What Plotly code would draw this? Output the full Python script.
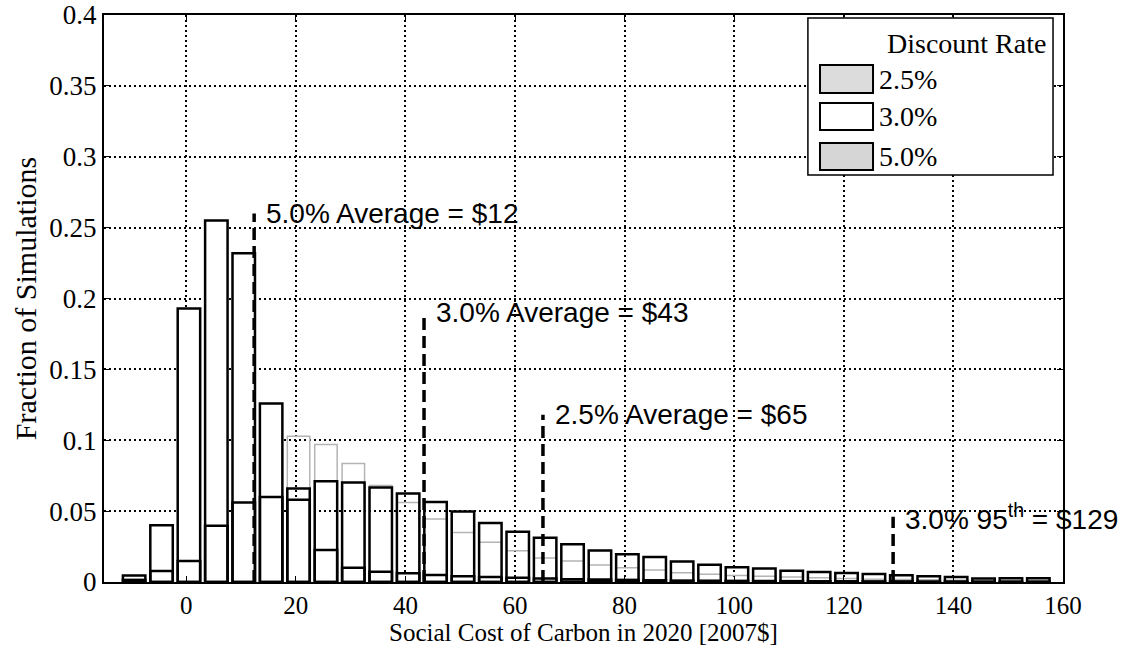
import plotly.graph_objects as go

# ---- data ----
bin_centers = [-9.5, -4.5, 0.5, 5.5, 10.5, 15.5, 20.5, 25.5, 30.5, 35.5, 40.5, 45.5,
               50.5, 55.5, 60.5, 65.5, 70.5, 75.5, 80.5, 85.5, 90.5, 95.5, 100.5,
               105.5, 110.5, 115.5, 120.5, 125.5, 130.5, 135.5, 140.5, 145.5, 150.5, 155.5]

frac_25 = [0.0015, 0.0078, 0.0148, 0.0396, 0.056, 0.060, 0.066, 0.071, 0.0702, 0.0667,
           0.0624, 0.0565, 0.0497, 0.0417, 0.0354, 0.0313, 0.0266, 0.0222, 0.0195,
           0.0177, 0.0145, 0.0122, 0.0104, 0.0095, 0.0079, 0.0071, 0.0064, 0.0057,
           0.0048, 0.0041, 0.0035, 0.0025, 0.0026, 0.0027]

frac_30 = [0.0005, 0.005, 0.025, 0.055, 0.082, 0.100, 0.1028, 0.097, 0.0836, 0.068,
           0.056, 0.0445, 0.035, 0.028, 0.022, 0.017, 0.0148, 0.012, 0.010, 0.0085,
           0.0065, 0.0055, 0.0045, 0.004, 0.0035, 0.003, 0.0025, 0.002, 0.0018,
           0.0015, 0.0013, 0.001, 0.001, 0.0008]

frac_50 = [0.0045, 0.040, 0.193, 0.255, 0.232, 0.126, 0.058, 0.0226, 0.0101, 0.0073,
           0.0062, 0.005, 0.004, 0.0035, 0.003, 0.0025, 0.002, 0.0018, 0.0015, 0.0012,
           0.001, 0.0009, 0.0008, 0.0007, 0.0006, 0.0005, 0.0005, 0.0004, 0.0004,
           0.0003, 0.0003, 0.0002, 0.0002, 0.0002]

series_names = ["2.5%", "3.0%", "5.0%"]

marker_x = [12.4, 43.4, 65.1, 129.0]
marker_top = [0.26, 0.19, 0.118, 0.046]
marker_text = ["5.0% Average = $12", "3.0% Average = $43", "2.5% Average = $65",
               "3.0% 95<sup>th</sup> = $129"]

x_ticks = [0, 20, 40, 60, 80, 100, 120, 140, 160]
y_ticks = [0, 0.05, 0.1, 0.15, 0.2, 0.25, 0.3, 0.35, 0.4]
y_tick_labels = ["0", "0.05", "0.1", "0.15", "0.2", "0.25", "0.3", "0.35", "0.4"]

SERIF = "Liberation Serif, Times New Roman, serif"
SANS = "Liberation Sans, Arial, sans-serif"
BAR_W = 4.1

fig = go.Figure()
# 3.0% (faint outline) drawn first
fig.add_trace(go.Bar(x=bin_centers, y=frac_30, width=BAR_W, name=series_names[1],
                     marker=dict(color="rgba(0,0,0,0)", line=dict(color="#b4b4b4", width=1.5)),
                     showlegend=False))
# 5.0% with white fill
fig.add_trace(go.Bar(x=bin_centers, y=frac_50, width=BAR_W, name=series_names[2],
                     marker=dict(color="white", line=dict(color="black", width=2.5)),
                     showlegend=False))
# 2.5% outline on top
fig.add_trace(go.Bar(x=bin_centers, y=frac_25, width=BAR_W, name=series_names[0],
                     marker=dict(color="rgba(0,0,0,0)", line=dict(color="black", width=2.5)),
                     showlegend=False))

shapes = []
annotations = []
for xv, top, txt in zip(marker_x, marker_top, marker_text):
    shapes.append(dict(type="line", xref="x", yref="y", x0=xv, x1=xv, y0=0, y1=top,
                       line=dict(color="black", width=3.5, dash="12px,6px")))
    annotations.append(dict(x=xv, y=top, xref="x", yref="y", text=txt, showarrow=False,
                            xanchor="left", yanchor="middle", xshift=10,
                            font=dict(family=SANS, size=28, color="black")))

# manual legend (paper coordinates)
shapes.append(dict(type="rect", xref="paper", yref="paper", x0=0.734, x1=0.9896,
                   y0=0.7178, y1=0.9947, fillcolor="white",
                   line=dict(color="black", width=1.5), layer="above"))
annotations.append(dict(x=0.984, y=0.949, xref="paper", yref="paper", text="Discount Rate",
                        showarrow=False, xanchor="right", yanchor="middle",
                        font=dict(family=SERIF, size=28, color="black")))
legend_rows = [(0.8624, 0.9118), (0.7972, 0.8448), (0.7266, 0.7743)]
legend_fill = ["#dcdcdc", "white", "#d6d6d6"]
for (y0, y1), fc, nm in zip(legend_rows, legend_fill, series_names):
    shapes.append(dict(type="rect", xref="paper", yref="paper", x0=0.7466, x1=0.8019,
                       y0=y0, y1=y1, fillcolor=fc, line=dict(color="black", width=2),
                       layer="above"))
    annotations.append(dict(x=0.806, y=(y0 + y1) / 2, xref="paper", yref="paper", text=nm,
                            showarrow=False, xanchor="left", yanchor="middle",
                            font=dict(family=SERIF, size=28, color="black")))

fig.update_layout(
    width=1132, height=651,
    barmode="overlay",
    plot_bgcolor="white", paper_bgcolor="white",
    margin=dict(l=104, r=69, t=15, b=69, autoexpand=False),
    shapes=shapes, annotations=annotations,
    showlegend=False,
)
fig.update_xaxes(range=[-15, 160], tickvals=x_ticks, ticks="inside", ticklen=6,
                 tickcolor="black", showline=True, linecolor="black", linewidth=2,
                 mirror="ticks", showgrid=True, gridcolor="black", griddash="2px,3px",
                 gridwidth=1.5, zeroline=False, automargin=False,
                 tickfont=dict(family=SERIF, size=25, color="black"),
                 title=dict(text="Social Cost of Carbon in 2020 [2007$]", standoff=2,
                            font=dict(family=SERIF, size=25, color="black")))
fig.update_yaxes(range=[0, 0.4], tickvals=y_ticks, ticktext=y_tick_labels, ticks="inside",
                 ticklen=6, tickcolor="black", showline=True, linecolor="black",
                 linewidth=2, mirror="ticks", showgrid=True, gridcolor="black",
                 griddash="2px,3px", gridwidth=1.5, zeroline=False, automargin=False,
                 tickfont=dict(family=SERIF, size=27, color="black"),
                 title=dict(text="Fraction of Simulations", standoff=4,
                            font=dict(family=SERIF, size=30, color="black")))

fig.write_html("out.html", config={"displayModeBar": False},
               post_script="document.body.style.margin='0';document.body.style.overflow='hidden';")
